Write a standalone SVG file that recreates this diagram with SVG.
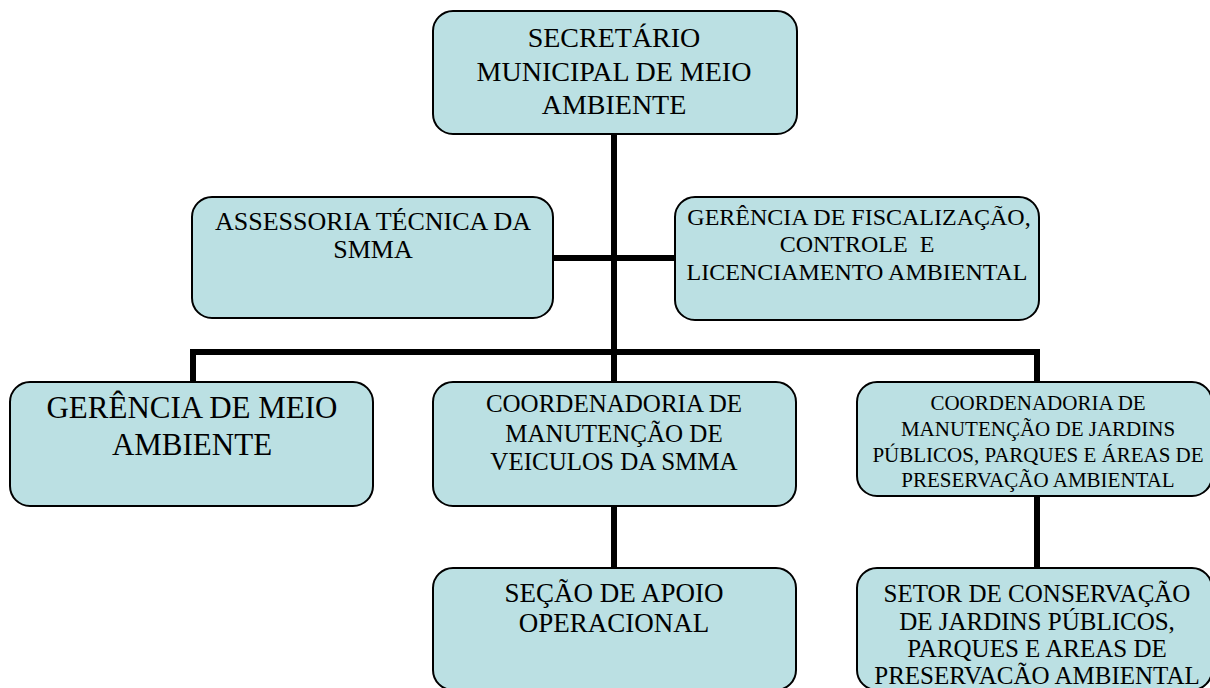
<svg xmlns="http://www.w3.org/2000/svg" width="1210" height="688" viewBox="0 0 1210 688">
<style>
.box{fill:#BBE0E3;stroke:#000;stroke-width:2}
.t{font-family:"Liberation Serif","Times New Roman",serif;fill:#000;text-anchor:middle}
.c{stroke:#000;stroke-width:6;fill:none}
</style>
<rect width="1210" height="688" fill="#fff"/>
<g id="connectors">
<line class="c" x1="614" y1="134" x2="614" y2="382"/>
<line class="c" x1="553" y1="258" x2="675" y2="258"/>
<polyline class="c" points="193,382 193,352 1037,352 1037,382"/>
<line class="c" x1="614" y1="506" x2="614" y2="568"/>
<line class="c" x1="1037" y1="496" x2="1037" y2="568"/>
</g>
<g id="n-secretario">
<rect class="box" x="433" y="11" width="364" height="123" rx="20"/>
<text class="t" font-size="28" x="614" y="47">SECRETÁRIO</text>
<text class="t" font-size="28" x="614" y="81">MUNICIPAL DE MEIO</text>
<text class="t" font-size="28" x="614" y="114">AMBIENTE</text>
</g>
<g id="n-assessoria">
<rect class="box" x="192" y="197" width="361" height="121" rx="20"/>
<text class="t" font-size="26" x="373" y="230">ASSESSORIA TÉCNICA DA</text>
<text class="t" font-size="26" x="373" y="258">SMMA</text>
</g>
<g id="n-fiscalizacao">
<rect class="box" x="675" y="197" width="364" height="123" rx="20"/>
<text class="t" font-size="24" x="859" y="225">GERÊNCIA DE FISCALIZAÇÃO,</text>
<text class="t" font-size="24" x="857" y="252" xml:space="preserve">CONTROLE  E</text>
<text class="t" font-size="24" x="857" y="280">LICENCIAMENTO AMBIENTAL</text>
</g>
<g id="n-gerencia-meio">
<rect class="box" x="10" y="382" width="363" height="124" rx="20"/>
<text class="t" font-size="31" x="192" y="418">GERÊNCIA DE MEIO</text>
<text class="t" font-size="31" x="192" y="455">AMBIENTE</text>
</g>
<g id="n-veiculos">
<rect class="box" x="433" y="382" width="363" height="124" rx="20"/>
<text class="t" font-size="25" x="614" y="412">COORDENADORIA DE</text>
<text class="t" font-size="25" x="614" y="442">MANUTENÇÃO DE</text>
<text class="t" font-size="25" x="614" y="470">VEICULOS DA SMMA</text>
</g>
<g id="n-jardins">
<rect class="box" x="857" y="382" width="355" height="114" rx="20"/>
<text class="t" font-size="21" x="1038" y="410">COORDENADORIA DE</text>
<text class="t" font-size="21" x="1038" y="436">MANUTENÇÃO DE JARDINS</text>
<text class="t" font-size="21" x="1038" y="462">PÚBLICOS, PARQUES E ÁREAS DE</text>
<text class="t" font-size="21" x="1038" y="487">PRESERVAÇÃO AMBIENTAL</text>
</g>
<g id="n-secao">
<rect class="box" x="433" y="568" width="363" height="122" rx="20"/>
<text class="t" font-size="27" x="614" y="602">SEÇÃO DE APOIO</text>
<text class="t" font-size="27" x="614" y="632">OPERACIONAL</text>
</g>
<g id="n-setor">
<rect class="box" x="857" y="568" width="355" height="122" rx="20"/>
<text class="t" font-size="25" x="1037" y="602">SETOR DE CONSERVAÇÃO</text>
<text class="t" font-size="25" x="1037" y="630">DE JARDINS PÚBLICOS,</text>
<text class="t" font-size="25" x="1037" y="657">PARQUES E AREAS DE</text>
<text class="t" font-size="25" x="1037" y="684">PRESERVACÃO AMBIENTAL</text>
</g>
</svg>
